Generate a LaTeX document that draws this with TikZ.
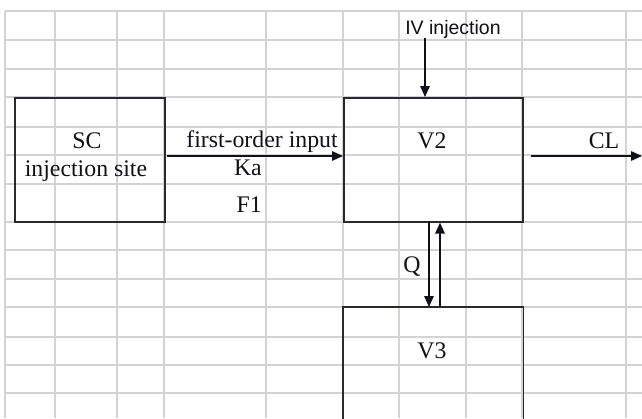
\documentclass[tikz,border=0pt]{standalone}
\usepackage{fontspec}
\setmainfont{Liberation Serif}
\newfontfamily\arialfont{Liberation Sans}
\usetikzlibrary{arrows.meta}
\definecolor{gridc}{HTML}{D3D3D3}
\definecolor{inkc}{HTML}{111118}
\tikzset{
  gridline/.style={draw=gridc, line width=1.2pt},
  boxc/.style={draw=inkc!90!white, line width=1.6pt, rectangle, inner sep=0pt, anchor=north west},
  lbl/.style={inner sep=0pt, anchor=base, text=inkc, font=\fontsize{23.8}{27}\selectfont},
  sanslbl/.style={inner sep=0pt, anchor=base, text=inkc, font=\arialfont\fontsize{19.5}{22}\selectfont},
  arr/.style={draw=inkc, line width=1.5pt, -{Triangle[length=11pt,width=9.5pt]}}
}
\begin{document}
\begin{tikzpicture}[x=1pt,y=-1pt]
\useasboundingbox (0,0) rectangle (642,418);
\clip (0,0) rectangle (642,418);
\fill[white] (0,0) rectangle (642,418);
% grid
\foreach \gy in {11,40,69,97,127,155,184,222,250,279,307,337,365,393}
  \draw[gridline] (5,\gy) -- (642,\gy);
\foreach \gx in {5,55,117,164,266,343,399,466,522,626}
  \draw[gridline] (\gx,11) -- (\gx,418);
% boxes
\node[boxc, minimum width=150pt, minimum height=124pt] (SC) at (14,97) {};
\node[boxc, minimum width=179pt, minimum height=124pt] (V2) at (343,97) {};
\node[boxc, draw=none, minimum width=179pt, minimum height=130pt] (V3) at (343,307) {};
\draw[draw=inkc!90!white, line width=1.6pt] (V3.south west) -- (V3.north west) -- (V3.north east) -- (V3.south east);
% labels
\node[lbl] (tSC) at (87,148) {SC};
\node[lbl] (tinj) at (86,176) {injection site};
\node[lbl] (tfo) at (262,147) {first-order input};
\node[lbl, anchor=base east] (tKa) at (262,175) {Ka};
\node[lbl, anchor=base east] (tF1) at (262,212) {F1};
\node[lbl] (tV2) at (432,148) {V2};
\node[lbl] (tCL) at (604,148) {CL};
\node[lbl] (tQ) at (412,272) {Q};
\node[lbl] (tV3) at (432,358) {V3};
\node[sanslbl] (tIV) at (453,34) {IV injection};
% connectors
\coordinate (a1) at (167,156);
\draw[arr] (a1) -- (a1 -| V2.west);
\coordinate (ivs) at (425,38);
\draw[arr] (ivs) -- (ivs |- V2.north);
\coordinate (cls) at (531,156);
\coordinate (cle) at (642,156);
\draw[arr] (cls) -- (cle);
\coordinate (qd) at (429,221);
\draw[arr] (qd) -- (qd |- V3.north);
\coordinate (qu) at (440,307);
\draw[arr] (qu) -- (qu |- V2.south);
\end{tikzpicture}
\end{document}
